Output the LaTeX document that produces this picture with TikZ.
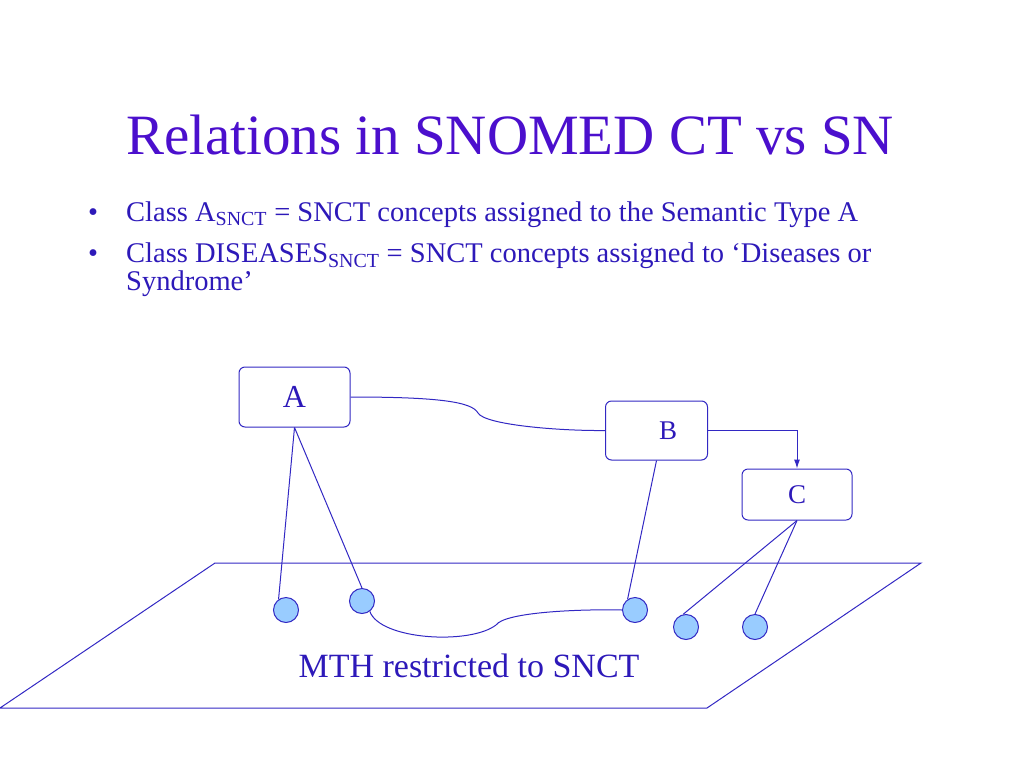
\documentclass[tikz,border=0pt]{standalone}
\usepackage{fontspec}
\setmainfont{Liberation Serif}
\usepackage{tikz}
\usetikzlibrary{arrows.meta}
\definecolor{title-blue}{RGB}{75,15,205}
\definecolor{text-blue}{RGB}{45,25,185}
\definecolor{line-blue}{RGB}{50,40,195}
\definecolor{dot-fill}{RGB}{153,204,255}
\tikzset{
    class-box/.style = {draw=line-blue, fill=white, line width=1pt, rectangle, rounded corners=6pt, text=text-blue, inner sep=0pt},
    concept-dot/.style = {draw=line-blue, fill=dot-fill, line width=1pt, circle, minimum size=25pt, inner sep=0pt},
    link/.style = {draw=line-blue, line width=1pt},
    bullet-text/.style = {text=text-blue, font=\fontsize{28.5}{28}\selectfont, inner sep=0pt, align=left},
}

\begin{document}
\begin{tikzpicture}[x=1pt, y=-1pt]
\useasboundingbox (0,0) rectangle (1024,768);
\node[anchor=base, text=title-blue, font=\fontsize{57}{60}\selectfont, inner sep=0pt] (title) at (510,154) {Relations in SNOMED CT vs SN};
\node[bullet-text, anchor=base west] (dot-one) at (88,221) {•};
\node[bullet-text, anchor=base west] (item-one) at (126,221) {Class A\textsubscript{SNCT} = SNCT concepts assigned to the Semantic Type A};
\node[bullet-text, anchor=base west] (dot-two) at (88,262) {•};
\node[bullet-text, anchor=north west] (item-two) at (126,243) {Class DISEASES\textsubscript{SNCT} = SNCT concepts assigned to ‘Diseases or\\Syndrome’};

% the plane of MTH
\draw[link] (215,563) -- (921,563) -- (707,708) -- (0,708) -- cycle;
\node[anchor=base, text=text-blue, font=\fontsize{34}{34}\selectfont, inner sep=0pt] (plane) at (469,677) {MTH restricted to SNCT};

% semantic types
\node[class-box, minimum width=111pt, minimum height=60pt, font=\fontsize{32}{32}\selectfont] (A) at (294.5,397) {A};
\node[class-box, minimum width=102pt, minimum height=59pt, font=\fontsize{27}{27}\selectfont] (B) at (656.5,430.5) {\hspace*{23pt}B};
\node[class-box, minimum width=110pt, minimum height=51pt, font=\fontsize{27}{27}\selectfont] (C) at (797,494.5) {\raisebox{-5pt}{C}};

% concepts
\node[concept-dot] (c1) at (286,610) {};
\node[concept-dot] (c2) at (362,601) {};
\node[concept-dot] (c3) at (635,610) {};
\node[concept-dot] (c4) at (686,627) {};
\node[concept-dot] (c5) at (755,627) {};

\draw[link] (A.east) .. controls (440,397) and (472,402) .. (478,413) .. controls (485,425) and (560,431) .. (B.west);
\draw[link, -{Latex[length=9pt,width=6pt]}] (B.east) -| (C.north);
\draw[link] (A.south) -- (c1.125);
\draw[link] (A.south) -- (c2.north);
\draw[link] (B.south) -- (c3.125);
\draw[link] (C.south) -- (c4.103);
\draw[link] (C.south) -- (c5.north);
\draw[link] (c2.-53) .. controls (380,640) and (470,645) .. (496,625) .. controls (505,612) and (580,609) .. (c3.west);
\end{tikzpicture}
\end{document}
